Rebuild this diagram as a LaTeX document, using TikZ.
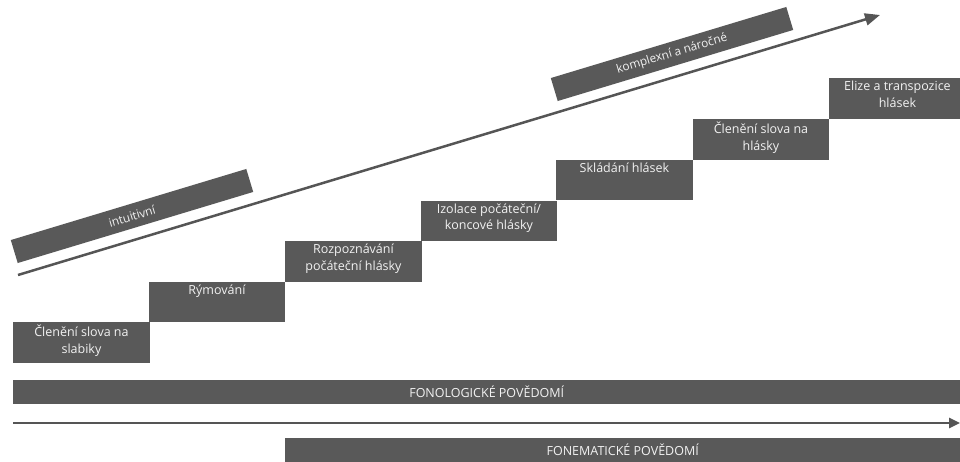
\documentclass[tikz,border=0pt]{standalone}
\usepackage{fontspec}
\setmainfont{Open Sans}
\usetikzlibrary{arrows.meta}
\definecolor{boxgray}{HTML}{595959}
\definecolor{txt}{HTML}{F2F2F2}
\definecolor{linegray}{HTML}{555555}
\begin{document}
\begin{tikzpicture}[x=1pt,y=-1pt,
  stepbox/.style={fill=boxgray, draw=none, minimum width=136.5pt, minimum height=40.5pt, inner sep=0pt, anchor=north west},
  steptext/.style={text=txt, font=\fontsize{12.5}{16.5}\selectfont, align=center, anchor=north, inner sep=0pt, yshift=-3pt},
  band/.style={fill=boxgray, draw=none, minimum width=246pt, minimum height=24pt, inner sep=0pt, rotate=16.8, text=txt, font=\fontsize{11.8}{13}\selectfont},
  bar/.style={fill=boxgray, draw=none, minimum height=24pt, inner sep=0pt, anchor=north west, text=txt, font=\fontsize{12.5}{14}\selectfont},
  arrowline/.style={draw=linegray, line width=2.5pt}
]
\useasboundingbox (0,0) rectangle (960,462);

% steps
\node[stepbox] (s1) at (13,322) {};
\node[stepbox] (s2) at (148.5,281.5) {};
\node[stepbox] (s3) at (285,241) {};
\node[stepbox] (s4) at (420.5,200.5) {};
\node[stepbox] (s5) at (556,159.5) {};
\node[stepbox] (s6) at (692.5,119) {};
\node[stepbox] (s7) at (829,78) {};

\node[steptext] (t1) at (s1.north) {Členění slova na\\slabiky};
\node[steptext] (t2) at (s2.north) {Rýmování};
\node[steptext] (t3) at (s3.north) {Rozpoznávání\\počáteční hlásky};
\node[steptext] (t4) at (s4.north) {Izolace počáteční/\\koncové hlásky};
\node[steptext] (t5) at (s5.north) {Skládání hlásek};
\node[steptext] (t6) at (s6.north) {Členění slova na\\hlásky};
\node[steptext] (t7) at (s7.north) {Elize a transpozice\\hlásek};

% diagonal bands
\node[band] (b1) at (132,216) {intuitivní};
\node[band] (b2) at (672,54) {komplexní a náročné};

% diagonal arrow
\coordinate (d1) at (18,275);
\coordinate (d2) at (880,15);
\draw[arrowline, -{Triangle[length=15pt,width=12pt]}] (d1) -- (d2);

% bottom bars
\node[bar, minimum width=947pt] (f1) at (13,380) {FONOLOGICKÉ POVĚDOMÍ};
\node[bar, minimum width=675pt] (f2) at (285,438) {FONEMATICKÉ POVĚDOMÍ};

% horizontal arrow
\coordinate (h1) at (13,423);
\coordinate (h2) at (960,423);
\draw[arrowline, -{Triangle[length=11pt,width=10pt]}] (h1) -- (h2);
\end{tikzpicture}
\end{document}
